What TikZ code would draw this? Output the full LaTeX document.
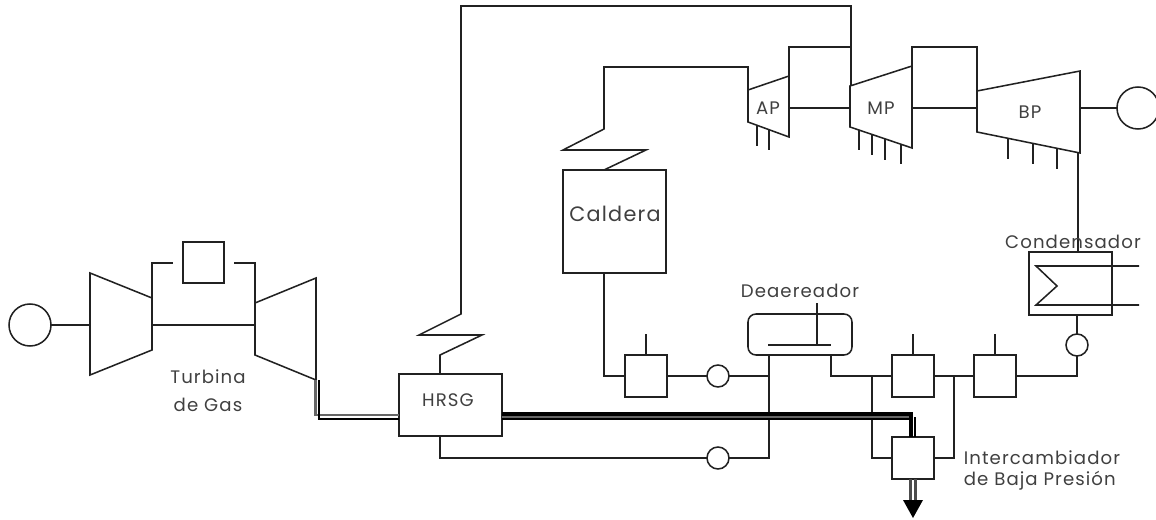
\documentclass[tikz,border=0pt]{standalone}
\usepackage{fontspec}
\setmainfont[LetterSpace=6]{Poppins}
\definecolor{ink}{gray}{0.13}
\begin{document}
\begin{tikzpicture}[x=0.75pt,y=-0.75pt,
  line width=1.15pt, draw=ink,
  boxn/.style={draw=ink,fill=white,inner sep=0pt,outer sep=0pt,minimum width=#1*0.75pt,minimum height=#1*0.75pt},
  wbox/.style n args={2}{draw=ink,fill=white,inner sep=0pt,outer sep=0pt,minimum width=#1*0.75pt,minimum height=#2*0.75pt},
  circ/.style={draw=ink,fill=white,circle,inner sep=0pt,outer sep=0pt,minimum size=#1*0.75pt},
  lab/.style={inner sep=0pt,text=black!75,font=\fontsize{13.6pt}{15pt}\selectfont},
  ltxt/.style={lab,anchor=west},
  exhgray/.style={draw=black!60,line width=2.2pt},
  exhthin/.style={draw=black,line width=1.5pt},
  exhthick/.style={draw=black,line width=2.6pt}]
\path[use as bounding box] (0,0) rectangle (1156,520);
\clip (0,0) rectangle (1156,520);
\fill[white] (0,0) rectangle (1156,520);

% --- coordinates
\coordinate (c1) at (90,273); \coordinate (c2) at (152,298); \coordinate (c3) at (152,350); \coordinate (c4) at (90,375);
\coordinate (t1) at (255,303); \coordinate (t2) at (316,278); \coordinate (t3) at (316,380); \coordinate (t4) at (255,355);
\coordinate (ap1) at (748,90); \coordinate (ap2) at (789,76); \coordinate (ap3) at (789,137); \coordinate (ap4) at (748,122);
\coordinate (mp1) at (850,86); \coordinate (mp2) at (912,66); \coordinate (mp3) at (912,148); \coordinate (mp4) at (850,127);
\coordinate (bp1) at (977,91); \coordinate (bp2) at (1080,71); \coordinate (bp3) at (1080,153); \coordinate (bp4) at (977,132);

% --- nodes
\node[circ=42] (gen1) at (30,325) {};
\node[circ=42] (gen2) at (1138,108) {};
\node[boxn=41] (comb) at (203.5,262.5) {};
\node[wbox={103}{62}] (hrsg) at (450.5,405) {};
\node[wbox={103}{103}] (cald) at (614.5,221.5) {};
\node[boxn=42] (hA) at (646,376) {};
\node[boxn=42] (hB) at (913,376) {};
\node[boxn=42] (hC) at (995,376) {};
\node[boxn=42] (hD) at (913,458) {};
\node[circ=22] (pA) at (718,376) {};
\node[circ=22] (pB) at (718,458) {};
\node[circ=22] (pC) at (1077,345) {};
\node[wbox={83}{63},fill=none] (cond) at (1070.5,283.5) {};
\node[draw=ink,rounded corners=6pt,inner sep=0pt,outer sep=0pt,minimum width=78pt,minimum height=30.75pt] (dear) at (800,334.5) {};

% --- turbines
\draw[line join=miter] (c1)--(c2)--(c3)--(c4)--cycle;
\draw (t1)--(t2)--(t3)--(t4)--cycle;
\draw (ap1)--(ap2)--(ap3)--(ap4)--cycle;
\draw (mp1)--(mp2)--(mp3)--(mp4)--cycle;
\draw (bp1)--(bp2)--(bp3)--(bp4)--cycle;

% --- shafts
\draw (gen1.east) -- (90,325);
\draw (152,325) -- (255,325);
\draw (789,108) -- (850,108);
\draw (912,108) -- (977,108);
\draw (1080,108) -- (gen2.west);

% --- combustor links
\coordinate (cbL) at (173,263); \coordinate (cbR) at (234,263);
\draw (c2) |- (cbL);
\draw (t1) |- (cbR);

% --- extractions
\foreach \x/\a/\b in {757/125/146,769/129/150,859/130/150,872/134/155,885/139/160,901/144/164,1008/138/159,1033/143/164,1057/148/169}
  \draw (\x,\a) -- (\x,\b);

% --- steam lines
\coordinate (zh) at (440,374);
\draw[line join=miter] (zh) -- (440,355) -- (482,335) -- (419,335) -- (461,314) -- (461,6) -- (851,6) -- (851,86);
\draw (ap2) |- (851,47);
\coordinate (zc) at (604,170);
\draw (zc) -- (646,150) -- (563,150) -- (604,129) -- (604,67) -- (748,67) -- (ap1);
\draw (mp2) |- (977,47) -- (bp1);
\draw (1078,153) -- (1078,252);

% --- water lines
\draw (cond.south -| pC) -- (pC.north);
\draw (pC.south) |- (hC.east);
\draw (hC.west) -- (hB.east);
\coordinate (dr) at (831,355);
\draw (dr) |- (hB.west);
\draw (954,376) |- (hD.east);
\draw (872,376) |- (hD.west);
\draw (995,334) -- (hC.north);
\draw (913,334) -- (hB.north);
\coordinate (dl) at (769,355);
\draw (dl) |- (pB.east);
\draw (769,376) -- (pA.east);
\draw (pA.west) -- (hA.east);
\draw (646,334) -- (hA.north);
\draw (604,273) |- (hA.west);
\coordinate (hb) at (440,436);
\draw (hb) |- (pB.west);

% --- deaerator internals
\draw (817,303) -- (817,345);
\draw (768,345) -- (831,345);

% --- condenser coil
\draw[line join=miter] (1139,266) -- (1036,266) -- (1057,286) -- (1036,305) -- (1139,305);

% --- exhaust gas lines
\draw[exhgray] (315.5,380) -- (315.5,415) -- (399,415);
\draw[exhthin] (318.5,380) -- (318.5,419) -- (399,419);
\draw[exhgray] (502,417) -- (909,417);
\draw[exhthin] (502,419) -- (910,419);
\draw[exhthick] (502,414) -- (911,414) -- (911,437);
\draw[exhthin] (914.5,417) -- (914.5,437);
\draw[exhgray,draw=black!70] (910.5,479) -- (910.5,500);
\draw[exhgray,draw=black!70] (915.5,479) -- (915.5,500);
\fill[black] (903,500) -- (923,500) -- (913,518) -- cycle;

% --- labels
\node[lab] (lT1) at (208,377) {Turbina};
\node[lab] (lT2) at (208,405) {de Gas};
\node[lab] (lH) at (448,400) {HRSG};
\node[lab,font=\fontsize{15.6pt}{17pt}\selectfont] (lC) at (615,214) {Caldera};
\node[lab] (lD) at (800,291) {Deaereador};
\node[lab] (lCo) at (1073,242) {Condensador};
\node[ltxt] (lI1) at (963,458) {Intercambiador};
\node[ltxt] (lI2) at (963,481) {de Baja Presión};
\node[lab] (lAP) at (768,108) {AP};
\node[lab] (lMP) at (881,108) {MP};
\node[lab] (lBP) at (1030,112) {BP};
\end{tikzpicture}
\end{document}
